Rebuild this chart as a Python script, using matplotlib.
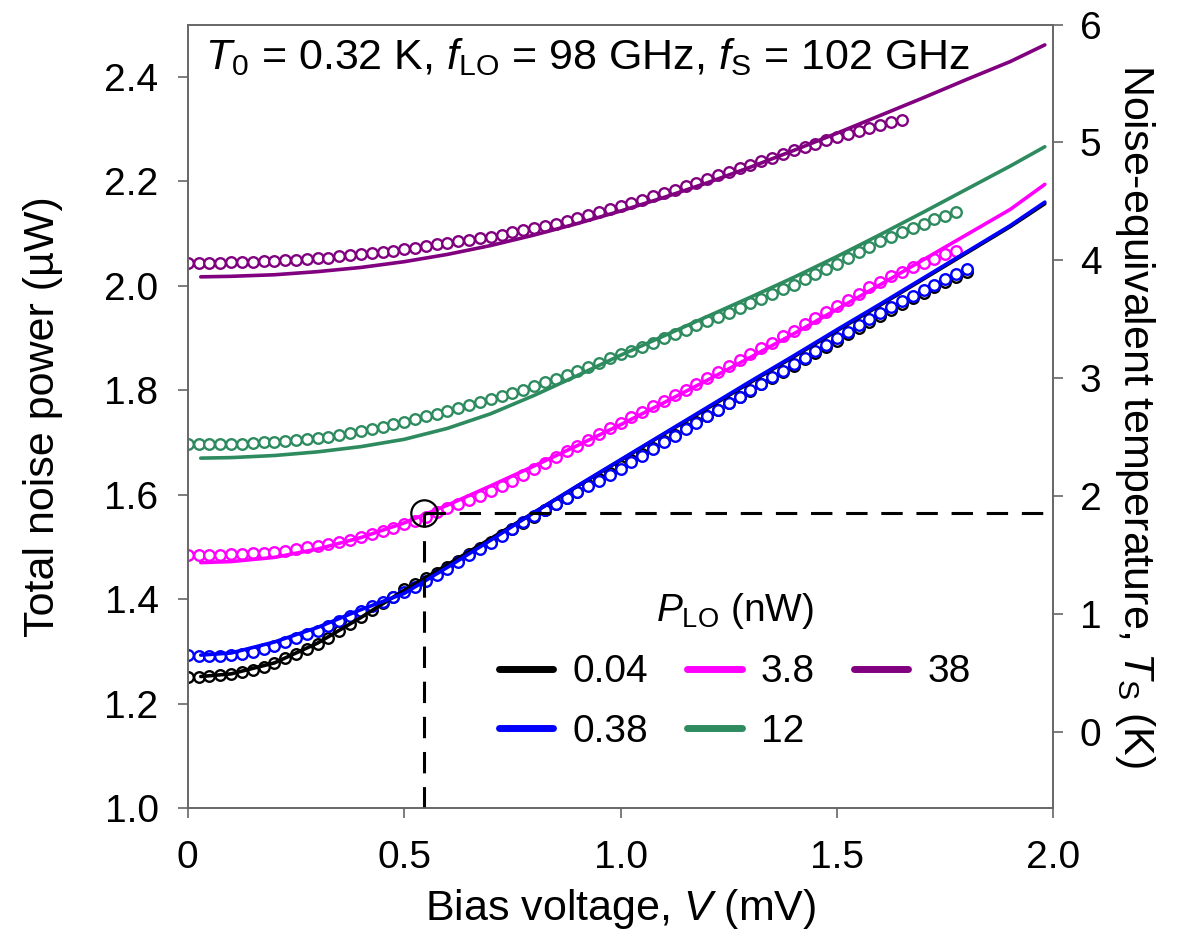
import numpy as np
import matplotlib
matplotlib.use("Agg")
import matplotlib.pyplot as plt

plt.rcParams["font.family"] = ["Liberation Sans", "DejaVu Sans"]
plt.rcParams["mathtext.fontset"] = "custom"
plt.rcParams["mathtext.rm"] = "Liberation Sans"
plt.rcParams["mathtext.it"] = "Liberation Sans:italic"

# bias sweep of the measurement (mV), 0.025 mV steps
BIAS = np.round(np.arange(0, 1.801, 0.025), 3)

# measured total noise power (uW), one list per LO power
P_004 = [1.251, 1.252, 1.253, 1.255, 1.257, 1.261, 1.265, 1.271, 1.278, 1.287,
         1.296, 1.305, 1.315, 1.326, 1.339, 1.352, 1.366, 1.379, 1.392, 1.405,
         1.419, 1.430, 1.441, 1.451, 1.462, 1.474, 1.486, 1.498, 1.510, 1.522,
         1.534, 1.546, 1.558, 1.570, 1.582, 1.594, 1.606, 1.618, 1.630, 1.642,
         1.654, 1.666, 1.678, 1.690, 1.702, 1.714, 1.727, 1.739, 1.751, 1.763,
         1.775, 1.787, 1.799, 1.811, 1.823, 1.835, 1.847, 1.859, 1.871, 1.883,
         1.895, 1.907, 1.919, 1.931, 1.943, 1.954, 1.965, 1.976, 1.987, 1.997,
         2.007, 2.017, 2.027]
P_038 = [1.293, 1.292, 1.292, 1.292, 1.293, 1.295, 1.299, 1.304, 1.311, 1.318,
         1.326, 1.333, 1.340, 1.349, 1.358, 1.368, 1.377, 1.386, 1.395, 1.404,
         1.413, 1.424, 1.435, 1.446, 1.458, 1.471, 1.484, 1.496, 1.508, 1.521,
         1.534, 1.547, 1.560, 1.571, 1.583, 1.594, 1.605, 1.616, 1.627, 1.638,
         1.650, 1.662, 1.675, 1.687, 1.700, 1.712, 1.725, 1.737, 1.750, 1.762,
         1.775, 1.787, 1.800, 1.812, 1.825, 1.837, 1.850, 1.862, 1.875, 1.887,
         1.899, 1.912, 1.924, 1.936, 1.948, 1.959, 1.970, 1.980, 1.991, 2.001,
         2.012, 2.022, 2.032]
P_38 = [1.485, 1.485, 1.485, 1.485, 1.486, 1.487, 1.488, 1.489, 1.491, 1.493,
        1.496, 1.499, 1.502, 1.506, 1.510, 1.514, 1.519, 1.524, 1.530, 1.536,
        1.543, 1.550, 1.558, 1.566, 1.574, 1.582, 1.590, 1.598, 1.607, 1.617,
        1.627, 1.638, 1.649, 1.660, 1.672, 1.683, 1.694, 1.705, 1.716, 1.727,
        1.738, 1.748, 1.759, 1.769, 1.780, 1.790, 1.801, 1.812, 1.823, 1.834,
        1.846, 1.857, 1.869, 1.880, 1.891, 1.903, 1.914, 1.926, 1.938, 1.950,
        1.961, 1.973, 1.985, 1.997, 2.008, 2.018, 2.027, 2.036, 2.044, 2.052,
        2.060, 2.067]
P_12 = [1.697, 1.697, 1.697, 1.697, 1.698, 1.698, 1.699, 1.700, 1.701, 1.702,
        1.704, 1.706, 1.708, 1.711, 1.714, 1.718, 1.721, 1.725, 1.730, 1.735,
        1.740, 1.745, 1.750, 1.755, 1.760, 1.765, 1.771, 1.777, 1.783, 1.789,
        1.795, 1.801, 1.808, 1.815, 1.822, 1.829, 1.837, 1.845, 1.853, 1.861,
        1.869, 1.876, 1.883, 1.891, 1.899, 1.907, 1.915, 1.924, 1.932, 1.940,
        1.948, 1.957, 1.966, 1.975, 1.984, 1.993, 2.002, 2.012, 2.022, 2.032,
        2.042, 2.053, 2.064, 2.075, 2.085, 2.094, 2.103, 2.111, 2.119, 2.127,
        2.134, 2.141]
P_380 = [2.044, 2.044, 2.044, 2.044, 2.045, 2.045, 2.046, 2.047, 2.048, 2.049,
         2.050, 2.051, 2.053, 2.054, 2.056, 2.058, 2.060, 2.062, 2.064, 2.067,
         2.070, 2.073, 2.076, 2.079, 2.082, 2.085, 2.088, 2.091, 2.094, 2.098,
         2.102, 2.106, 2.110, 2.114, 2.119, 2.124, 2.129, 2.135, 2.141, 2.147,
         2.153, 2.159, 2.165, 2.171, 2.178, 2.184, 2.191, 2.197, 2.204, 2.211,
         2.218, 2.225, 2.231, 2.238, 2.245, 2.252, 2.259, 2.266, 2.272, 2.278,
         2.284, 2.290, 2.296, 2.302, 2.308, 2.313, 2.318]

# model curves (solid lines)
FIT_V = [0.03, 0.1, 0.2, 0.3, 0.4, 0.5, 0.6, 0.7, 0.8, 0.9, 1.0,
         1.1, 1.2, 1.3, 1.4, 1.5, 1.6, 1.7, 1.8, 1.9, 1.98]
FIT_004 = [1.252, 1.257, 1.278, 1.316, 1.365, 1.417, 1.466, 1.516, 1.566, 1.616,
           1.666, 1.716, 1.765, 1.815, 1.864, 1.914, 1.963, 2.013, 2.063, 2.113,
           2.157]
FIT_038 = [1.293, 1.297, 1.318, 1.346, 1.380, 1.411, 1.461, 1.513, 1.566, 1.617,
           1.667, 1.717, 1.767, 1.817, 1.866, 1.916, 1.965, 2.015, 2.065, 2.115,
           2.160]
FIT_38 = [1.470, 1.472, 1.480, 1.496, 1.518, 1.546, 1.580, 1.617, 1.655, 1.694,
          1.734, 1.776, 1.819, 1.863, 1.908, 1.955, 2.002, 2.050, 2.098, 2.146,
          2.194]
FIT_12 = [1.670, 1.671, 1.675, 1.682, 1.692, 1.706, 1.727, 1.755, 1.790, 1.828,
          1.867, 1.904, 1.941, 1.978, 2.016, 2.056, 2.098, 2.141, 2.185, 2.229,
          2.266]
FIT_380 = [2.017, 2.018, 2.021, 2.027, 2.035, 2.046, 2.060, 2.077, 2.097, 2.119,
           2.143, 2.169, 2.197, 2.227, 2.259, 2.292, 2.326, 2.360, 2.395, 2.429,
           2.461]

LABELS = ["0.04", "0.38", "3.8", "12", "38"]
COLORS = ["black", "#0000ff", "#ff00ff", "#2e8b5f", "#800080"]

# marked operating point
V_OP = 0.545
P_OP = 1.565


fig = plt.figure(figsize=(11.81, 9.43), dpi=100)
ax = fig.add_axes([0.159, 0.143, 0.733, 0.831])

data_sets = [P_004, P_038, P_38, P_12, P_380]
fit_sets = [FIT_004, FIT_038, FIT_38, FIT_12, FIT_380]
handles = []
for lab, col, pdat, pfit in zip(LABELS, COLORS, data_sets, fit_sets):
    ax.plot(BIAS[:len(pdat)], pdat, "o", ms=7.6, mfc="white", mec=col,
            mew=1.7, zorder=2)
    h, = ax.plot(FIT_V, pfit, "-", color=col, lw=2.6, zorder=3,
                 solid_capstyle="round", label=lab)
    handles.append(h)

# dashed guide lines and circled point
ax.plot([V_OP, V_OP], [1.0, P_OP], color="black", lw=2.2, dashes=(7, 4.5), zorder=4)
ax.plot([V_OP, 2.0], [P_OP, P_OP], color="black", lw=2.2, dashes=(7, 4.5), zorder=4)
ax.plot([V_OP], [P_OP], "o", ms=19, mfc="none", mec="black", mew=1.6, zorder=5)

ax.set_xlim(0, 2.0)
ax.set_ylim(1.0, 2.5)
ax.set_xticks([0, 0.5, 1.0, 1.5, 2.0])
ax.set_xticklabels(["0", "0.5", "1.0", "1.5", "2.0"])
ax.set_yticks([1.0, 1.2, 1.4, 1.6, 1.8, 2.0, 2.2, 2.4])
ax.set_yticklabels(["1.0", "1.2", "1.4", "1.6", "1.8", "2.0", "2.2", "2.4"])
ax.set_xlabel("Bias voltage, $\\it{V}$ (mV)", fontsize=31, labelpad=8)
ax.set_ylabel("Total noise power (µW)", fontsize=31, labelpad=30)

spine_col = "#666666"
for s in ax.spines.values():
    s.set_color(spine_col)
    s.set_linewidth(1.2)
ax.tick_params(axis="both", direction="out", length=7, width=1.2,
               color=spine_col, labelsize=28, pad=14)
ax.tick_params(axis="x", pad=16)

ax2 = ax.twinx()
ax2.set_ylim(-0.65, 6.0)
ax2.set_yticks([0, 1, 2, 3, 4, 5, 6])
ax2.tick_params(axis="y", direction="out", length=7, width=1.2,
                color=spine_col, labelsize=28, pad=12)
for s in ax2.spines.values():
    s.set_color(spine_col)
    s.set_linewidth(1.2)
ax2.set_ylabel("Noise-equivalent temperature, $T_{\\rm S}$ (K)", fontsize=31,
               rotation=270, labelpad=40)

ax.text(0.02, 0.985, "$T_0$ = 0.32 K, $f_{\\rm LO}$ = 98 GHz, $f_{\\rm S}$ = 102 GHz",
        transform=ax.transAxes, fontsize=31, va="top", ha="left")

leg = ax.legend(handles=handles, ncol=3, loc="center",
                bbox_to_anchor=(0.632, 0.176), frameon=False, fontsize=28,
                title="$P_{\\rm LO}$ (nW)", title_fontsize=28,
                handlelength=1.4, handletextpad=0.5, columnspacing=1.0,
                labelspacing=0.6)
for line in leg.get_lines():
    line.set_linewidth(5)
    line.set_solid_capstyle("round")

fig.savefig("out.png", dpi=100)
